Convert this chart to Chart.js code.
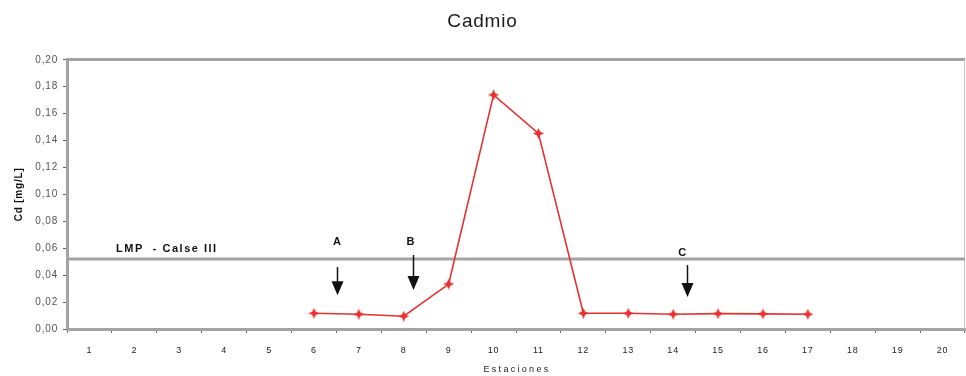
<!DOCTYPE html>
<html>
<head>
<meta charset="utf-8">
<script src="https://cdn.jsdelivr.net/npm/chart.js@4"></script>
<style>
html,body{margin:0;padding:0;background:#fff;}
#wrap{width:966px;height:376px;position:relative;}
</style>
</head>
<body>
<div id="wrap"><canvas id="c" width="966" height="376"></canvas></div>
<script>
// ---- data ----
const stations = ['1','2','3','4','5','6','7','8','9','10','11','12','13','14','15','16','17','18','19','20'];
const cadmio = [null,null,null,null,null,0.0117,0.0110,0.0095,0.0334,0.1739,0.1453,0.0117,0.0117,0.0110,0.0114,0.0112,0.0110,null,null,null];
const lmpValue = 0.052;
const lmpLabel = 'LMP  - Calse III';
const yTicksMin = 0;
const yTicksMax = 0.20;
const yStep = 0.02;
const arrowLabels = ['A','B','C'];
const xTitle = 'Estaciones';

// ---- annotation layout (positions in scale units) ----
const arrowSpecs = [
  {label: arrowLabels[0], x: 5.51, textX: 5.51, textY: 0.0647, top: 0.046, tip: 0.025},
  {label: arrowLabels[1], x: 7.20, textX: 7.15, textY: 0.0647, top: 0.055, tip: 0.029},
  {label: arrowLabels[2], x: 13.31, textX: 13.20, textY: 0.0565, top: 0.0475, tip: 0.0237}
];

// star marker
function makeStar(color){
  const s = 11, c = document.createElement('canvas');
  c.width = s; c.height = s;
  const g = c.getContext('2d');
  const m = s/2, r = s/2, ri = 2.4;
  g.fillStyle = color;
  g.beginPath();
  for (let i=0;i<8;i++){
    const a = -Math.PI/2 + i*Math.PI/4;
    const rr = (i%2===0)? r : ri;
    const x = m + rr*Math.cos(a), y = m + rr*Math.sin(a);
    if(i===0) g.moveTo(x,y); else g.lineTo(x,y);
  }
  g.closePath(); g.fill();
  return c;
}
const RED = '#e8302c';
const star = makeStar(RED);
const GRAY = '#a3a3a3';
const FONT = '"Liberation Sans", Arial, sans-serif';

const overlay = {
  id: 'overlay',
  beforeDraw(chart){
    try { chart.ctx.letterSpacing = '0.8px'; } catch(e){}
  },
  beforeDatasetsDraw(chart){
    const {ctx, chartArea:a, scales:{x,y}} = chart;
    try { ctx.letterSpacing = '0px'; } catch(e){}
    ctx.save();
    // right frame
    ctx.strokeStyle = '#c4c4c4'; ctx.lineWidth = 1;
    ctx.beginPath(); ctx.moveTo(a.right-0.5, a.top); ctx.lineTo(a.right-0.5, a.bottom); ctx.stroke();
    // LMP line
    const ly = y.getPixelForValue(lmpValue);
    ctx.strokeStyle = GRAY; ctx.lineWidth = 3;
    ctx.beginPath(); ctx.moveTo(a.left, ly); ctx.lineTo(a.right, ly); ctx.stroke();
    ctx.fillStyle = '#111';
    ctx.font = 'bold 11px ' + FONT;
    try { ctx.letterSpacing = '1.5px'; } catch(e){}
    ctx.textBaseline = 'middle'; ctx.textAlign = 'left';
    ctx.fillText(lmpLabel, a.left + 49, ly - 10);
    ctx.restore();
  },
  afterDatasetsDraw(chart){
    const {ctx, chartArea:a, scales:{x,y}} = chart;
    ctx.save();
    arrowSpecs.forEach(s=>{
      const px = Math.round(x.getPixelForValue(s.x)) + 0.5;
      const tx = x.getPixelForValue(s.textX);
      ctx.fillStyle = '#111';
      ctx.font = 'bold 11px ' + FONT;
      ctx.textAlign = 'center'; ctx.textBaseline = 'middle';
      ctx.fillText(s.label, tx, y.getPixelForValue(s.textY));
      const yt = y.getPixelForValue(s.top), yp = y.getPixelForValue(s.tip);
      const headH = 14, headW = 6;
      ctx.strokeStyle = '#111'; ctx.lineWidth = 1.5;
      ctx.beginPath(); ctx.moveTo(px, yt); ctx.lineTo(px, yp - headH + 1); ctx.stroke();
      ctx.beginPath();
      ctx.moveTo(px - headW, yp - headH);
      ctx.lineTo(px + headW, yp - headH);
      ctx.lineTo(px, yp);
      ctx.closePath(); ctx.fill();
    });
    // x axis title
    ctx.fillStyle = '#222';
    ctx.font = '9px ' + FONT;
    try { ctx.letterSpacing = '2.3px'; } catch(e){}
    ctx.textAlign = 'center'; ctx.textBaseline = 'middle';
    ctx.fillText(xTitle, (a.left + a.right)/2 + 1, 370);
    ctx.restore();
  }
};

new Chart(document.getElementById('c'), {
  type: 'line',
  data: {
    labels: stations,
    datasets: [{
      data: cadmio,
      borderColor: RED,
      borderWidth: 1.6,
      pointStyle: star,
      pointRadius: 5,
      pointHoverRadius: 5,
      tension: 0,
      spanGaps: false,
      clip: false
    }]
  },
  options: {
    responsive: false,
    animation: false,
    events: [],
    layout: {autoPadding: false, padding: {left: 0, right: 1, top: 0, bottom: 0}},
    plugins: {
      legend: {display: false},
      tooltip: {enabled: false},
      title: {
        display: true,
        text: 'Cadmio',
        color: '#1a1a1a',
        font: {family: FONT, size: 19, weight: 'normal'},
        padding: {top: 10, bottom: 27}
      }
    },
    scales: {
      x: {
        type: 'category',
        offset: true,
        grid: {offset: true, drawOnChartArea: false, tickLength: 4, tickColor: '#666', tickWidth: 1},
        border: {display: true, color: GRAY, width: 3},
        ticks: {color: '#222', padding: 12, autoSkip: false, maxRotation: 0,
          font: {family: FONT, size: 9}},
        title: {display: false},
        afterFit(scale){ scale.height = 47; scale.paddingLeft = 0; scale.paddingRight = 0; }
      },
      y: {
        min: yTicksMin,
        max: yTicksMax,
        grid: {
          drawOnChartArea: true,
          color: ctx => (ctx.tick && Math.abs(ctx.tick.value - yTicksMax) < 1e-9) ? GRAY : 'rgba(0,0,0,0)',
          lineWidth: ctx => (ctx.tick && Math.abs(ctx.tick.value - yTicksMax) < 1e-9) ? 3 : 1,
          tickColor: '#666', tickWidth: 1, tickLength: 4
        },
        border: {display: true, color: GRAY, width: 3},
        ticks: {
          stepSize: yStep, color: '#555', padding: 5,
          font: {family: FONT, size: 10},
          callback: v => Number(v).toFixed(2).replace('.', ',')
        },
        title: {display: true, text: 'Cd [mg/L]', color: '#111',
          font: {family: FONT, size: 10, weight: 'bold'},
          padding: {top: 13, bottom: 0}},
        afterFit(scale){ scale.width = 67; }
      }
    }
  },
  plugins: [overlay]
});
</script>
</body>
</html>
